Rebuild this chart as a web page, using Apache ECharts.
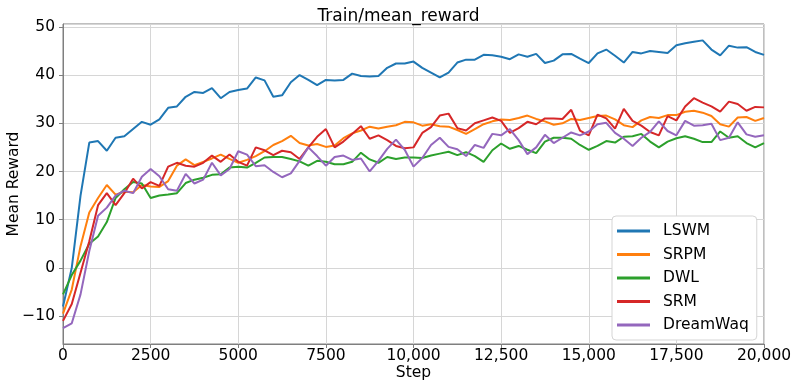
<!DOCTYPE html>
<html>
<head>
    <meta charset="utf-8">
    <title>Train/mean_reward</title>
    <style>
        body{
            margin: 0;
            padding: 0;
            background: #fff;
        }
        #container{
            width: 797px;
            height: 390px;
        }
    </style>
</head>
<body>
    <div id="container"></div>

    <script src="https://cdn.jsdelivr.net/npm/echarts@6/dist/echarts.min.js"></script>
    <script type="text/javascript">
    // curves, one value every 250 steps (0 .. 20000)
    var stepSize = 250;

    var lswm = [-8, 0, 15, 26, 26.3, 24.3, 27, 27.3, 28.8, 30.3,
        29.7, 30.8, 33.2, 33.5, 35.5, 36.5, 36.3, 37.3, 35.2, 36.5,
        36.9, 37.2, 39.5, 38.9, 35.5, 35.8, 38.5, 40, 39, 37.9,
        39, 38.9, 39, 40.3, 39.8, 39.7, 39.8, 41.5, 42.4, 42.4,
        42.8, 41.5, 40.5, 39.5, 40.5, 42.6, 43.2, 43.2, 44.2, 44.1,
        43.8, 43.3, 44.3, 43.8, 44.4, 42.5, 43, 44.3, 44.4, 43.4,
        42.5, 44.5, 45.3, 44, 42.6, 44.8, 44.5, 45, 44.8, 44.6,
        46.2, 46.6, 46.9, 47.2, 45.3, 44.1, 46.1, 45.7, 45.8, 44.8,
        44.2];

    var srpm = [-9.5, -4.5, 4.5, 11.5, 14.5, 17.2, 15.2, 15.8, 15.7, 17.2,
        16.9, 16.8, 18, 21.2, 22.5, 21.3, 22, 22.7, 23.5, 22.6,
        21.8, 22.4, 23.2, 24.2, 25.5, 26.3, 27.4, 25.9, 25.4, 25.7,
        25.1, 25.4, 26.9, 27.9, 28.5, 29.3, 28.9, 29.3, 29.6, 30.3,
        30.2, 29.5, 29.8, 29.4, 29.3, 28.6, 27.8, 28.8, 29.8, 30.4,
        30.8, 30.7, 31.1, 31.6, 30.9, 30.4, 29.7, 30, 30.9, 30.7,
        31.1, 31.5, 31.6, 30.8, 29.6, 29.2, 30.6, 31.3, 31.1, 31.7,
        31.7, 32.4, 32.6, 32.2, 31.5, 29.8, 29.3, 31.2, 31.3, 30.5,
        31.1];

    var dwl = [-5.5, -1.5, 1.5, 5, 6.5, 9.5, 14.5, 16.3, 17.8, 17.5,
        14.5, 15, 15.2, 15.5, 17.6, 18.3, 18.7, 19.3, 19.4, 20.8,
        21, 20.8, 21.8, 22.9, 23, 23, 22.6, 22.1, 21.2, 22.2,
        22, 21.5, 21.5, 22, 23.9, 22.5, 21.8, 23, 22.6, 22.9,
        22.9, 22.8, 23.3, 23.7, 24.1, 23.4, 24, 23.2, 22, 24.4,
        25.8, 24.7, 25.3, 24.5, 23.8, 26.2, 27, 27, 26.8, 25.5,
        24.5, 25.3, 26.3, 26, 27.2, 27.3, 27.8, 26.2, 25, 26.2,
        26.9, 27.3, 26.8, 26.1, 26.1, 28.3, 27, 27.3, 25.9, 25,
        25.9];

    var srm = [-11, -7.5, -1, 5.5, 13, 15.5, 13, 15.5, 18.5, 16.5,
        17.8, 17, 21, 21.8, 21.2, 21, 21.8, 23.3, 22, 23.5,
        22, 21.2, 25, 24.4, 23.4, 24.3, 24, 22.6, 25, 27.2,
        28.8, 25, 26.2, 27.8, 29.4, 26.8, 27.5, 26.5, 25.3, 24.8,
        25, 28, 29.2, 31.6, 32, 29, 28.5, 30, 30.6, 31.2,
        30.5, 28, 29, 30.3, 29.8, 31, 31, 30.9, 32.8, 28.5,
        27.5, 31.8, 31, 28.9, 33, 30.5, 29.5, 28.2, 27.5, 31.5,
        30.6, 33.5, 35.2, 34.3, 33.5, 32.4, 34.5, 34, 32.6, 33.4,
        33.3];

    var dreamwaq = [-12.5, -11.5, -5.5, 3.5, 10.8, 12.5, 15, 16, 15.5, 18.9,
        20.5, 19, 16.3, 16, 19.5, 17.5, 18.3, 21.8, 19.2, 20.5,
        24.2, 23.5, 21.1, 21.3, 19.9, 18.8, 19.6, 22.2, 25, 23.2,
        21.2, 23, 23.3, 22.4, 22.7, 20, 22.2, 24.7, 26.6, 24.5,
        21, 22.8, 25.5, 27, 25.1, 24.6, 23.2, 25.5, 24.9, 27.8,
        27.5, 28.8, 26.5, 23.6, 25, 27.6, 25.9, 27, 28.1, 27.5,
        28.3, 29.8, 30.1, 28, 26.8, 25.3, 27, 28.2, 30.4, 28.4,
        27.5, 30.5, 29.5, 29.6, 29.9, 26.5, 27, 30.2, 27.7, 27.2,
        27.5];

    var seriesNames = ['LSWM', 'SRPM', 'DWL', 'SRM', 'DreamWaq'];
    var seriesColors = ['#1f77b4', '#ff7f0e', '#2ca02c', '#d62728', '#9467bd'];
    var xTickLabels = ['0', '2500', '5000', '7500', '10,000', '12,500', '15,000', '17,500', '20,000'];
    var yTickLabels = ['\u221210', '0', '10', '20', '30', '40', '50'];

    var font = 'DejaVu Sans';
    var fontSize = 15.5;

    // [step, value] pairs for a value x axis
    function toPairs(values) {
        var out = [];
        for (var i = 0; i < values.length; i++) {
            out.push([i * stepSize, values[i]]);
        }
        return out;
    }

    var allValues = [lswm, srpm, dwl, srm, dreamwaq];
    var series = [];
    for (var s = 0; s < allValues.length; s++) {
        series.push({
            name: seriesNames[s],
            type: 'line',
            data: toPairs(allValues[s]),
            showSymbol: false,
            symbol: 'none',
            color: seriesColors[s],
            lineStyle: { width: 2, color: seriesColors[s] },
            animation: false
        });
    }

    var myChart = echarts.init(document.getElementById('container'));

    var option = {
        animation: false,
        backgroundColor: '#fff',
        title: {
            text: 'Train/mean_reward',
            left: 'center',
            top: 3,
            textStyle: { fontFamily: font, fontSize: 17, fontWeight: 'normal', color: '#000' }
        },
        grid: {
            left: 63, right: 33, top: 24, bottom: 46,
            containLabel: false,
            outerBoundsMode: 'none',
            show: true,
            borderColor: '#7f7f7f',
            borderWidth: 1,
            backgroundColor: '#fff'
        },
        legend: {
            data: seriesNames,
            orient: 'vertical',
            left: 612,
            top: 216,
            padding: [7, 8, 7, 5],
            itemGap: 7.5,
            itemWidth: 33,
            itemHeight: 3,
            icon: 'rect',
            backgroundColor: '#fff',
            borderColor: '#d5d5d5',
            borderWidth: 1,
            borderRadius: 4,
            textStyle: { fontFamily: font, fontSize: fontSize, color: '#000', padding: [0, 0, 0, 8] }
        },
        xAxis: {
            type: 'value',
            min: 0,
            max: 20000,
            interval: 2500,
            name: 'Step',
            nameLocation: 'middle',
            nameGap: 21,
            nameMoveOverlap: false,
            nameTextStyle: { fontFamily: font, fontSize: fontSize, color: '#000' },
            axisLine: { show: true, onZero: false, lineStyle: { color: '#7f7f7f' } },
            axisTick: { show: true, length: 4, lineStyle: { color: '#7f7f7f' } },
            axisLabel: {
                fontFamily: font, fontSize: fontSize, color: '#000', margin: 4,
                formatter: function (v) {
                    var idx = Math.round(v / 2500);
                    return xTickLabels[idx] || '';
                }
            },
            splitLine: { show: true, lineStyle: { color: '#d6d6d6', width: 1 } }
        },
        yAxis: {
            type: 'value',
            min: -15.8,
            max: 50.6,
            splitNumber: 7,
            name: 'Mean Reward',
            nameLocation: 'middle',
            nameGap: 41,
            nameMoveOverlap: false,
            nameTextStyle: { fontFamily: font, fontSize: fontSize, color: '#000' },
            axisLine: { show: true, onZero: false, lineStyle: { color: '#7f7f7f' } },
            axisTick: { show: true, length: 4, lineStyle: { color: '#7f7f7f' } },
            axisLabel: {
                fontFamily: font, fontSize: fontSize, color: '#000', margin: 8,
                showMinLabel: false, showMaxLabel: false,
                formatter: function (v) {
                    var r = Math.round(v);
                    if (Math.abs(v - r) > 1e-6 || r % 10 !== 0) return '';
                    var idx = (r + 10) / 10;
                    return yTickLabels[idx] || '';
                }
            },
            splitLine: { show: true, lineStyle: { color: '#d6d6d6', width: 1 } }
        },
        series: series
    };

    myChart.setOption(option, true);
    </script>
</body>
</html>
